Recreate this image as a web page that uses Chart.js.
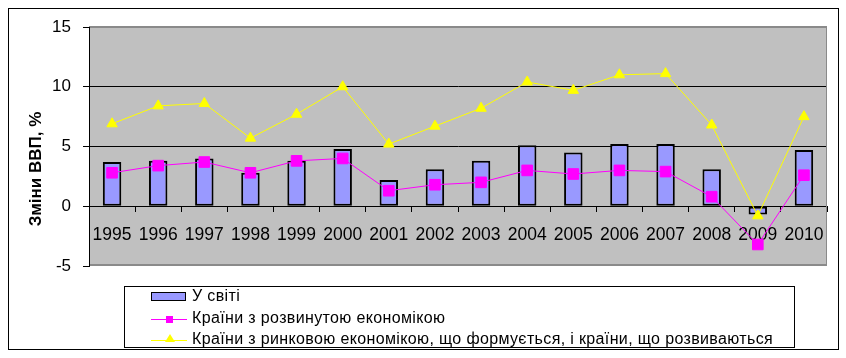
<!DOCTYPE html>
<html>
<head>
<meta charset="utf-8">
<script src="https://cdn.jsdelivr.net/npm/chart.js@4/dist/chart.umd.min.js"></script>
<style>
  html, body { margin: 0; padding: 0; background: #fff; }
  #wrap { position: relative; width: 846px; height: 358px; overflow: hidden; }
  #c { position: absolute; left: 0; top: 0; }
  #frame { position: absolute; left: 8px; top: 8px; width: 831px; height: 342px; border: 1px solid #000; box-sizing: border-box; pointer-events: none; }
  #ytitle { position: absolute; left: 36px; top: 169px; transform: translate(-50%, -50%) rotate(-90deg); white-space: nowrap;
            font: bold 17px 'Liberation Sans', Arial, sans-serif; color: #000; }
  #legend { position: absolute; left: 124px; top: 286px; width: 671px; height: 62px; border: 1px solid #000; box-sizing: border-box; background: #fff; }
  .row { position: absolute; left: 0; height: 20px; width: 100%; }
  .txt { position: absolute; left: 67px; top: 0; line-height: 20px; font: 16px 'Liberation Sans', Arial, sans-serif; letter-spacing: 0.36px; color: #000; white-space: nowrap; }
  .sw { position: absolute; }
</style>
</head>
<body>
<div id="wrap">
  <canvas id="c" width="846" height="358"></canvas>
  <div id="frame"></div>
  <div id="ytitle"></div>
  <div id="legend"></div>
</div>
<script>
// ---- data ----
const years = ['1995','1996','1997','1998','1999','2000','2001','2002','2003','2004','2005','2006','2007','2008','2009','2010'];
const world    = [3.7, 3.8, 4.0, 2.8, 3.8, 4.8, 2.2, 3.1, 3.8, 5.1, 4.5, 5.2, 5.2, 3.1, -0.7, 4.7];
const advanced = [2.8, 3.4, 3.7, 2.8, 3.8, 4.0, 1.3, 1.8, 2.0, 3.0, 2.7, 3.0, 2.9, 0.8, -3.2, 2.6];
const emerging = [6.9, 8.4, 8.6, 5.7, 7.7, 10.0, 5.2, 6.7, 8.2, 10.4, 9.7, 11.0, 11.1, 6.8, -0.8, 7.5];
const yMin = -5, yMax = 15, yStep = 5;
const seriesLabels = ['У світі', 'Країни з розвинутою економікою', 'Країни з ринковою економікою, що формується, і країни, що розвиваються'];
const yTitle = 'Зміни ВВП, %';

const FONT = "'Liberation Sans', Arial, sans-serif";

const plotBg = {
  id: 'plotBg',
  beforeDraw(chart) {
    const {ctx, chartArea: a} = chart;
    ctx.save();
    ctx.fillStyle = '#C0C0C0';
    ctx.fillRect(a.left, a.top, a.right - a.left, a.bottom - a.top);
    ctx.restore();
  },
  afterDraw(chart) {
    const {ctx, chartArea: a} = chart;
    ctx.save();
    ctx.strokeStyle = '#8a8a8a';
    ctx.lineWidth = 2;
    ctx.beginPath();
    ctx.moveTo(a.left, a.top); ctx.lineTo(a.right, a.top);
    ctx.moveTo(a.left, a.bottom - 1); ctx.lineTo(a.right, a.bottom - 1);
    ctx.stroke();
    ctx.lineWidth = 1;
    ctx.beginPath();
    ctx.moveTo(a.right - 0.5, a.top); ctx.lineTo(a.right - 0.5, a.bottom);
    ctx.stroke();
    ctx.strokeStyle = '#000';
    ctx.beginPath();
    ctx.moveTo(a.left + 0.5, a.top); ctx.lineTo(a.left + 0.5, a.bottom);
    ctx.stroke();
    ctx.restore();
  }
};

const chart = new Chart(document.getElementById('c'), {
  data: {
    labels: years,
    datasets: [
      { type: 'bar', label: seriesLabels[0], data: world, backgroundColor: '#9999FF', borderColor: '#000', borderWidth: 2,
        borderSkipped: false, categoryPercentage: 1.0, barPercentage: 0.4, order: 3 },
      { type: 'line', label: seriesLabels[1], data: advanced, borderColor: '#FF00FF', backgroundColor: '#FF00FF', borderWidth: 1,
        pointStyle: 'rect', pointRadius: 7.5, pointBorderWidth: 1, pointBackgroundColor: '#FF00FF', pointBorderColor: '#FF00FF', tension: 0, order: 2 },
      { type: 'line', label: seriesLabels[2], data: emerging, borderColor: '#FFFF00', backgroundColor: '#FFFF00', borderWidth: 1,
        pointStyle: 'triangle', pointRadius: 6, pointBorderWidth: 1, pointBackgroundColor: '#FFFF00', pointBorderColor: '#FFFF00', tension: 0, order: 1 }
    ]
  },
  options: {
    responsive: false,
    devicePixelRatio: 1,
    animation: false,
    layout: { padding: { left: 0, top: 27, right: 19, bottom: 92 } },
    plugins: { legend: { display: false }, tooltip: { enabled: false } },
    scales: {
      x: {
        type: 'category',
        position: { y: 0 },
        offset: true,
        grid: { offset: true, drawOnChartArea: false, drawTicks: true, tickLength: 5, tickColor: '#000', color: '#000' },
        border: { display: true, color: '#000', width: 1 },
        ticks: { color: '#000', font: { family: FONT, size: 17.5 }, padding: 13, maxRotation: 0, autoSkip: false }
      },
      y: {
        min: yMin, max: yMax,
        afterFit(s) { s.width = 89; },
        ticks: { stepSize: yStep, color: '#000', font: { family: FONT, size: 17 }, padding: 12 },
        grid: {
          color: (c) => (c.tick && (c.tick.value === 5 || c.tick.value === 10)) ? '#000' : 'rgba(0,0,0,0)',
          tickColor: '#000', tickLength: 6, lineWidth: 1
        },
        border: { display: true, color: '#000', width: 1 }
      }
    }
  },
  plugins: [plotBg]
});

document.getElementById('ytitle').textContent = yTitle;

// HTML legend built from datasets
const lg = document.getElementById('legend');
const rowCenters = [10, 32, 53];
chart.data.datasets.forEach((ds, i) => {
  const row = document.createElement('div');
  row.className = 'row';
  row.style.top = (rowCenters[i] - 10) + 'px';
  if (ds.type === 'bar') {
    const r = document.createElement('div');
    r.className = 'sw';
    Object.assign(r.style, { left: '26px', top: '5px', width: '35px', height: '9px', background: ds.backgroundColor, border: '1px solid #000', boxSizing: 'border-box' });
    row.appendChild(r);
  } else {
    const l = document.createElement('div');
    l.className = 'sw';
    Object.assign(l.style, { left: '26px', top: '10px', width: '36px', height: '1px', background: ds.borderColor });
    row.appendChild(l);
    const m = document.createElement('div');
    m.className = 'sw';
    if (ds.pointStyle === 'rect') {
      Object.assign(m.style, { left: '41px', top: '7px', width: '7px', height: '7px', background: ds.borderColor });
    } else {
      Object.assign(m.style, { left: '40px', top: '4px', width: '0', height: '0', borderLeft: '5px solid transparent', borderRight: '5px solid transparent', borderBottom: '8px solid ' + ds.borderColor });
    }
    row.appendChild(m);
  }
  const t = document.createElement('div');
  t.className = 'txt';
  t.textContent = ds.label;
  row.appendChild(t);
  lg.appendChild(row);
});
</script>
</body>
</html>
